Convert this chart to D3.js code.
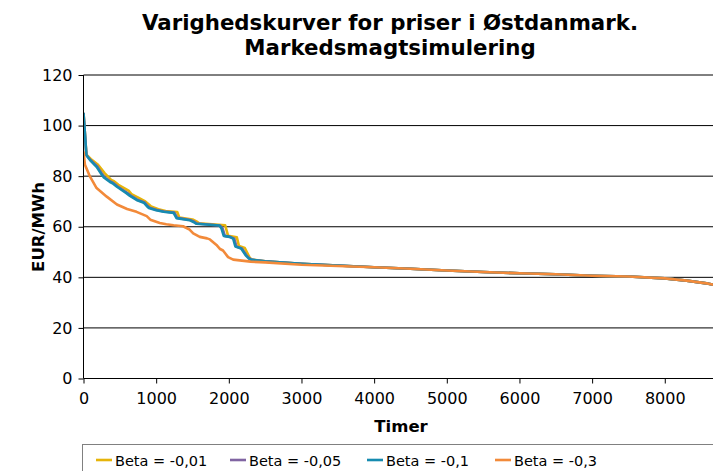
<!DOCTYPE html>
<html><head><meta charset="utf-8">
<script src="https://cdn.jsdelivr.net/npm/d3@7"></script>
<style>body{margin:0;background:#fff}svg{display:block}text{font-family:"DejaVu Sans",Verdana,sans-serif;fill:#000}</style>
</head><body><svg id="c" width="713" height="471"></svg>
<script>
const titleLines = ["Varighedskurver for priser i Østdanmark.", "Markedsmagtsimulering"];
const xLabel = "Timer";
const yLabel = "EUR/MWh";
const seriesNames = ["Beta = -0,01", "Beta = -0,05", "Beta = -0,1", "Beta = -0,3"];
const seriesColors = ["#E6B40A", "#8064A2", "#168BB0", "#F28A3A"];
const yTicks = [0, 20, 40, 60, 80, 100, 120];
const xTicks = [0, 1000, 2000, 3000, 4000, 5000, 6000, 7000, 8000];

const hours001 = [0,40,100,200,290,380,420,480,620,660,760,850,900,930,1030,1130,1290,1320,1500,1560,1590,1950,1990,2110,2140,2220,2290,2320,2500,3000,3500,4000,4500,5000,5500,6000,6500,7000,7500,8000,8300,8600,8760];
const values001 = [105,88.5,86.8,84.5,81.2,78.5,78.0,76.6,74.3,72.9,71.4,70.0,68.8,68.0,66.9,66.2,65.8,63.6,62.9,62.0,61.4,60.6,56.4,55.8,52.4,51.6,47.6,47.0,46.3,45.4,44.7,44.0,43.4,42.7,42.1,41.6,41.2,40.6,40.3,39.6,38.7,37.5,36.6];

const hours005 = [0,40,95,190,260,290,370,410,470,600,650,740,840,880,910,1010,1110,1250,1290,1470,1530,1560,1880,1915,1945,2020,2075,2105,2180,2240,2280,2310,2500,3000,3500,4000,4500,5000,5500,6000,6500,7000,7500,8000,8300,8600,8760];
const values005 = [105,88.3,86.4,83.8,80.7,79.6,77.9,77.3,75.9,73.4,72.3,70.7,69.6,68.3,67.5,66.6,66.0,65.6,63.5,62.7,61.9,61.3,60.5,59.3,56.4,56.0,55.3,52.2,51.4,48.8,47.6,47.0,46.3,45.4,44.7,44.0,43.4,42.7,42.1,41.6,41.2,40.6,40.3,39.6,38.7,37.5,36.6];

const hours01 = [0,40,90,180,250,280,360,400,460,590,640,730,830,870,900,1000,1100,1240,1280,1460,1520,1550,1870,1900,1930,2010,2060,2090,2170,2230,2270,2300,2500,3000,3500,4000,4500,5000,5500,6000,6500,7000,7500,8000,8300,8600,8760];
const values01 = [105,88.3,86.4,83.7,80.6,79.5,77.8,77.2,75.8,73.3,72.2,70.6,69.5,68.2,67.4,66.5,65.9,65.5,63.4,62.6,61.8,61.2,60.5,59.3,56.4,56.0,55.3,52.2,51.4,48.8,47.6,47.0,46.3,45.4,44.7,44.0,43.4,42.7,42.1,41.6,41.2,40.6,40.3,39.6,38.7,37.5,36.6];

const hours03 = [0,20,90,180,320,460,600,730,870,920,1050,1140,1240,1370,1460,1510,1600,1700,1740,1830,1880,1920,1990,2060,2300,2500,3000,3500,4000,4500,5000,5500,6000,6500,7000,7500,8000,8300,8600,8760];
const values03 = [89.8,84.5,79.8,75.3,71.9,68.8,67.0,65.9,64.2,62.8,61.5,61.0,60.6,60.2,58.9,57.4,56.0,55.4,55.0,52.8,51.2,50.6,48.0,47.0,46.2,45.9,45.0,44.5,44.0,43.4,42.7,42.1,41.6,41.2,40.6,40.3,39.6,38.7,37.5,36.6];

const seriesHours = [hours001, hours005, hours01, hours03];
const seriesValues = [values001, values005, values01, values03];

const svg = d3.select("#c");
const x = d3.scaleLinear().domain([0, 8760]).range([83.5, 720]);
const y = d3.scaleLinear().domain([0, 120]).range([378.5, 75]);

// gridlines
svg.append("g").selectAll("line").data(yTicks.filter(d => d > 0)).join("line")
  .attr("x1", 83.5).attr("x2", 713).attr("y1", d => y(d)).attr("y2", d => y(d))
  .attr("stroke", "#000").attr("stroke-width", 1);

// clip
svg.append("clipPath").attr("id", "clip").append("rect")
  .attr("x", 83.5).attr("y", 70).attr("width", 640).attr("height", 309);

const line = d3.line().x(d => x(d[0])).y(d => y(d[1]));
const gLines = svg.append("g").attr("clip-path", "url(#clip)");
seriesNames.forEach((name, i) => {
  const pts = seriesHours[i].map((h, j) => [h, seriesValues[i][j]]);
  gLines.append("path").datum(pts).attr("d", line)
    .attr("fill", "none").attr("stroke", seriesColors[i])
    .attr("stroke-width", 2.6).attr("stroke-linejoin", "round");
});

// axes
const yAxis = svg.append("g").attr("transform", "translate(83.5,0)")
  .call(d3.axisLeft(y).tickValues(yTicks).tickSize(5).tickPadding(6));
const xAxis = svg.append("g").attr("transform", `translate(0,${y(0)})`)
  .call(d3.axisBottom(x).tickValues(xTicks).tickSize(5).tickPadding(9).tickFormat(d3.format("d")));
[yAxis, xAxis].forEach(a => {
  a.select(".domain").attr("stroke", "#000");
  a.selectAll(".tick line").attr("stroke", "#000");
  a.selectAll(".tick text").attr("font-size", 16).attr("font-family", '"DejaVu Sans",Verdana,sans-serif').attr("fill", "#000");
});
xAxis.select(".domain").attr("d", "M83.5,0H713");
yAxis.select(".domain").attr("d", "M0,75V" + y(0));

// title
svg.append("g").selectAll("text").data(titleLines).join("text")
  .attr("x", 390).attr("y", (d, i) => 30 + i * 25)
  .attr("text-anchor", "middle").attr("font-size", 21.3).attr("font-weight", "bold")
  .text(d => d);

// axis labels
svg.append("text").attr("x", 401).attr("y", 432).attr("text-anchor", "middle")
  .attr("font-size", 16.5).attr("font-weight", "bold").text(xLabel);
svg.append("text").attr("transform", "translate(44,227) rotate(-90)")
  .attr("text-anchor", "middle").attr("font-size", 16.5).attr("font-weight", "bold").text(yLabel);

// legend
svg.append("rect").attr("x", 82.5).attr("y", 444.5).attr("width", 700).attr("height", 40)
  .attr("fill", "#fff").attr("stroke", "#808080").attr("stroke-width", 1);
const legX = [96, 230, 367, 495];
const leg = svg.append("g").selectAll("g").data(seriesNames).join("g")
  .attr("transform", (d, i) => `translate(${legX[i]},460)`);
leg.append("line").attr("x1", 0).attr("x2", 16).attr("y1", 0).attr("y2", 0)
  .attr("stroke", (d, i) => seriesColors[i]).attr("stroke-width", 2.6);
leg.append("text").attr("x", 19).attr("y", 5.5).attr("font-size", 14.5).text(d => d);
</script></body></html>
